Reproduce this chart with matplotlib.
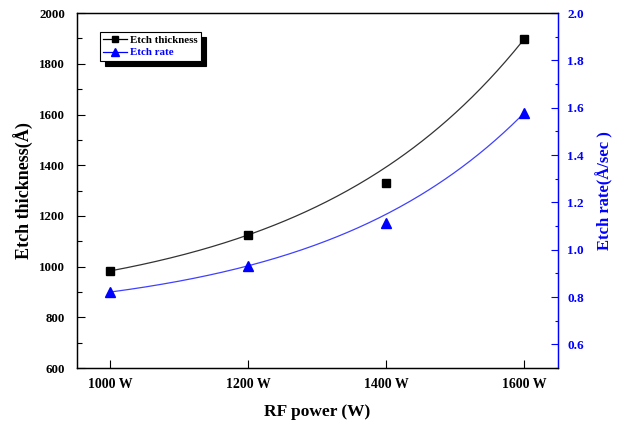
import numpy as np
import matplotlib.pyplot as plt
from matplotlib.lines import Line2D

# RF power settings and measured values
power = [1000, 1200, 1400, 1600]
power_labels = ['1000 W', '1200 W', '1400 W', '1600 W']
thickness = [983, 1125, 1330, 1898]     # Angstrom
rate = [0.821, 0.932, 1.113, 1.578]     # Angstrom/sec

# the trend curves in the original run through the 1000/1200/1600 W points
# and leave the 1400 W point off the curve
fit_weight = [1, 1, 0, 1]


def exp_grow_fit(x, y, w):
    # y = y0 + A*exp(x/t): grid over t, weighted least squares for y0 and A
    x = np.asarray(x, float)
    y = np.asarray(y, float)
    w = np.sqrt(np.asarray(w, float))
    best = None
    for t in np.linspace(50, 2000, 6000):
        M = np.column_stack([np.ones_like(x), np.exp((x - x[0]) / t)])
        coef, *_ = np.linalg.lstsq(M * w[:, None], y * w, rcond=None)
        err = np.sum(((M @ coef - y) * w) ** 2)
        if best is None or err < best[0]:
            best = (err, t, coef)
    _, t, coef = best
    return lambda xx: coef[0] + coef[1] * np.exp((np.asarray(xx) - x[0]) / t)


plt.rcParams['font.family'] = 'Liberation Serif'
plt.rcParams['font.weight'] = 'bold'

fig = plt.figure(figsize=(6.18, 4.23), dpi=100)
ax = fig.add_axes([0.1246, 0.130, 0.7784, 0.839])
ax2 = ax.twinx()

xs = np.linspace(power[0], power[-1], 200)
f1 = exp_grow_fit(power, thickness, fit_weight)
f2 = exp_grow_fit(power, rate, fit_weight)

ax.plot(xs, f1(xs), color='#333333', lw=0.9)
ax.plot(power, thickness, 's', color='black', ms=5.5)
ax2.plot(xs, f2(xs), color='#4040ff', lw=0.9)
ax2.plot(power, rate, '^', color='blue', ms=6.5)

ax.set_xlim(952, 1649)
ax.set_ylim(600, 2000)
ax2.set_ylim(0.5, 2.0)

ax.set_xticks(power)
ax.set_xticklabels(power_labels)
ax.set_yticks(np.arange(600, 2001, 200))
ax.set_yticks(np.arange(700, 2000, 200), minor=True)
ax2.set_yticks(np.arange(0.6, 2.01, 0.2))
ax2.set_yticks(np.arange(0.5, 2.0, 0.2), minor=True)
ax2.set_yticklabels([f'{v:.1f}' for v in np.arange(0.6, 2.01, 0.2)])

ax.tick_params(axis='x', which='major', direction='in', length=6, width=0.8,
               labelsize=10, pad=7.5)
ax.tick_params(axis='y', which='major', direction='in', length=6, width=0.8,
               labelsize=9.3, pad=8.5)
ax.tick_params(axis='y', which='minor', direction='in', length=3.5, width=0.8)
ax2.tick_params(axis='y', which='major', direction='in', length=5, width=0.8,
                colors='blue', labelsize=9.5, pad=6.5)
ax2.tick_params(axis='y', which='minor', direction='in', length=2.5, width=0.8,
                colors='blue')

for a in (ax, ax2):
    for s in a.spines.values():
        s.set_linewidth(0.9)
ax2.spines['right'].set_color('blue')
ax.spines['right'].set_color('blue')

ax.set_xlabel('RF power (W)', fontsize=12.5, fontweight='bold', labelpad=9)
ax.set_ylabel('Etch thickness(Å)', fontsize=13, fontweight='bold', labelpad=4)
ax2.set_ylabel('Etch rate(Å/sec )', fontsize=12, fontweight='bold',
               color='blue', labelpad=9)

handles = [
    Line2D([], [], color='black', lw=0.9, marker='s', ms=5),
    Line2D([], [], color='blue', lw=0.9, marker='^', ms=6),
]
leg = ax.legend(handles, ['Etch thickness', 'Etch rate'], loc='upper left',
                bbox_to_anchor=(0.048, 0.946), fontsize=7.8, frameon=True,
                fancybox=False, edgecolor='black', framealpha=1,
                shadow={'color': 'black', 'alpha': 1, 'ox': 3.5, 'oy': -3.5},
                handlelength=2.2, handletextpad=0.25, borderpad=0.3,
                labelspacing=0.25, borderaxespad=0)
leg.get_frame().set_linewidth(0.8)
leg.get_texts()[1].set_color('blue')

fig.savefig('out.png', dpi=100)
